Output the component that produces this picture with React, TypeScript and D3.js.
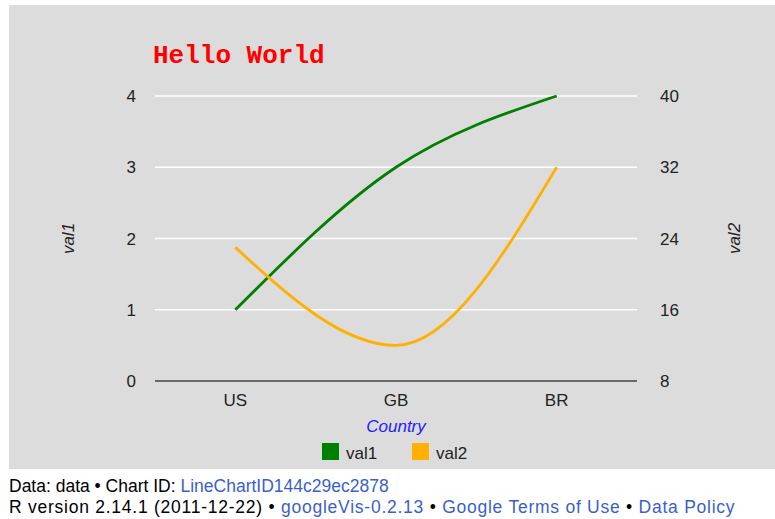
import React from "react";
import * as d3 from "d3";

const countries = ["US", "GB", "BR"];
const val1 = [1, 3, 4];
const val2 = [23, 12, 32];
const leftTicks = [0, 1, 2, 3, 4];
const rightTicks = [8, 16, 24, 32, 40];
const seriesNames = ["val1", "val2"];
const seriesColors = ["#008000", "#ffb000"];

export default function App() {
  const W = 775, H = 519;
  const plotL = 155, plotR = 637, plotT = 96, plotB = 381;
  const x = d3.scaleBand().domain(countries).range([plotL, plotR]);
  const yL = d3.scaleLinear().domain([0, 4]).range([plotB, plotT]);
  const yR = d3.scaleLinear().domain([8, 40]).range([plotB, plotT]);
  const cx = (c: string) => (x(c) as number) + x.bandwidth() / 2;
  const line1 = d3.line<number>().x((_, i) => cx(countries[i])).y((d) => yL(d)).curve(d3.curveMonotoneX);
  const line2 = d3.line<number>().x((_, i) => cx(countries[i])).y((d) => yR(d)).curve(d3.curveMonotoneX);
  const font = "Arial, 'Liberation Sans', sans-serif";
  const link = "#3a5fcd";
  const fs = 17;
  return (
    <svg width={W} height={H} style={{ position: "absolute", left: 0, top: 0 }} fontFamily={font}>
      <rect x={0} y={0} width={W} height={H} fill="#ffffff" />
      <rect x={9} y={5} width={766} height={464} fill="#dcdcdc" />
      <text x={153} y={63} fill="#ff0000" fontFamily="'Liberation Mono', 'Courier New', monospace" fontWeight="bold" fontSize={26}>Hello World</text>
      {leftTicks.slice(1).map((t) => (
        <line key={t} x1={plotL} x2={plotR} y1={yL(t)} y2={yL(t)} stroke="#ffffff" strokeWidth={1.5} />
      ))}
      <line x1={plotL} x2={plotR} y1={plotB} y2={plotB} stroke="#444" strokeWidth={1.5} />
      {leftTicks.map((t) => (
        <text key={t} x={136} y={yL(t) + 6} textAnchor="end" fontSize={fs} fill="#222">{t}</text>
      ))}
      {rightTicks.map((t) => (
        <text key={t} x={660} y={yR(t) + 6} textAnchor="start" fontSize={fs} fill="#222">{t}</text>
      ))}
      {countries.map((c) => (
        <text key={c} x={cx(c)} y={406} textAnchor="middle" fontSize={fs} fill="#222">{c}</text>
      ))}
      <text transform={`translate(74,${(plotT + plotB) / 2}) rotate(-90)`} textAnchor="middle" fontSize={fs} fontStyle="italic" fill="#222">val1</text>
      <text transform={`translate(740,${(plotT + plotB) / 2}) rotate(-90)`} textAnchor="middle" fontSize={fs} fontStyle="italic" fill="#222">val2</text>
      <text x={cx("GB")} y={432} textAnchor="middle" fontSize={fs} fontStyle="italic" fill="#2222ff">Country</text>
      <path d={line1(val1) || ""} fill="none" stroke={seriesColors[0]} strokeWidth={2.8} />
      <path d={line2(val2) || ""} fill="none" stroke={seriesColors[1]} strokeWidth={2.8} />
      {seriesNames.map((s, i) => (
        <g key={s} transform={`translate(${322 + i * 90},443)`}>
          <rect x={0} y={0} width={17} height={17} fill={seriesColors[i]} />
          <text x={24} y={16} fontSize={fs} fill="#222">{s}</text>
        </g>
      ))}
      <text x={9} y={492} fontSize={17.5} fill="#000">
        Data: data • Chart ID: <tspan fill={link}>LineChartID144c29ec2878</tspan>
      </text>
      <text x={9} y={513} fontSize={17.5} fill="#000" letterSpacing={0.75}>
        R version 2.14.1 (2011-12-22) • <tspan fill={link}>googleVis-0.2.13</tspan> • <tspan fill={link}>Google Terms of Use</tspan> • <tspan fill={link}>Data Policy</tspan>
      </text>
    </svg>
  );
}
